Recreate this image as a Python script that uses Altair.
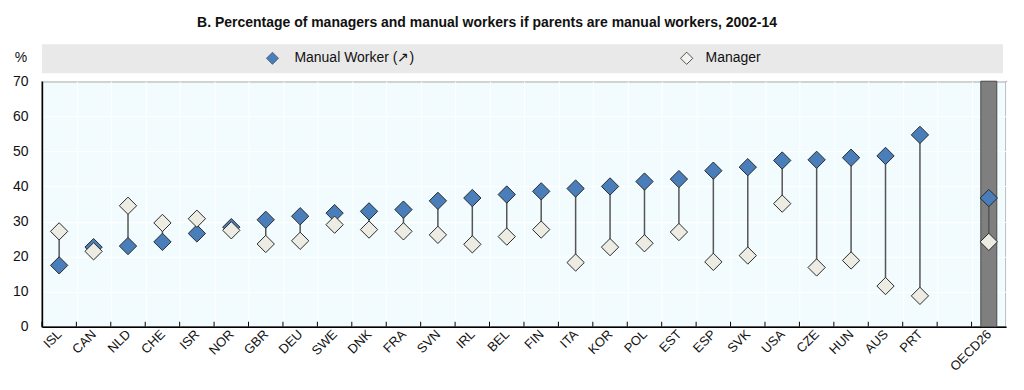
import altair as alt
import pandas as pd

countries = ["ISL", "CAN", "NLD", "CHE", "ISR", "NOR", "GBR", "DEU", "SWE", "DNK",
             "FRA", "SVN", "IRL", "BEL", "FIN", "ITA", "KOR", "POL", "EST", "ESP",
             "SVK", "USA", "CZE", "HUN", "AUS", "PRT", "OECD26"]
manual_worker = [17.5, 22.7, 23.0, 24.2, 26.6, 28.4, 30.5, 31.5, 32.4, 32.9,
                 33.4, 35.9, 36.7, 37.7, 38.6, 39.4, 40.0, 41.4, 42.1, 44.5,
                 45.5, 47.4, 47.6, 48.2, 48.7, 54.7, 36.7]
manager = [27.2, 21.5, 34.5, 29.6, 30.8, 27.5, 23.6, 24.5, 29.1, 27.7,
           27.2, 26.2, 23.5, 25.7, 27.7, 18.3, 22.7, 23.8, 27.0, 18.5,
           20.3, 35.1, 16.9, 18.9, 11.6, 8.8, 24.2]
highlight = ["OECD26"]
y_ticks = [0, 10, 20, 30, 40, 50, 60, 70]

domain = countries[:-1] + [" "] + countries[-1:]

df = pd.DataFrame({"country": countries, "manual": manual_worker, "manager": manager})
df_dom = pd.DataFrame({"country": domain})
df_hl = pd.DataFrame({"country": highlight})
one = pd.DataFrame({"k": [0]})

W, H = 966, 246
FONT = "Liberation Sans"
BLUE = "#4a7ebb"
CREAM = "#ececE2"

xscale = alt.Scale(type="band", domain=domain, paddingInner=0, paddingOuter=0)
yscale = alt.Scale(domain=[0, 70], nice=False)

x_axis = alt.Axis(title=None, tickBand="extent", ticks=False, grid=True, gridColor="white",
                  gridWidth=1, labelAngle=315, labelFontSize=13, labelFont=FONT,
                  labelColor="#111", labelPadding=5, domainColor="black", domainWidth=1.5,
                  labelAlign="right", labelBaseline="middle", labelOverlap=False)
y_axis = alt.Axis(title=None, values=y_ticks, ticks=False, grid=True, gridColor="white",
                  gridWidth=1, labelFontSize=14, labelFont=FONT, labelColor="#111",
                  labelPadding=14, domainColor="black", domainWidth=1.5, labelOverlap=False)

X = alt.X("country:N", scale=xscale, axis=x_axis, sort=domain)

bar = alt.Chart(df_hl).mark_bar(width=16, color="#7f7f7f", stroke="#474747", strokeWidth=1).encode(
    x=X, y=alt.value(0), y2=alt.value(H))

ticks = alt.Chart(df_dom).mark_rule(color="black", strokeWidth=1).encode(
    x=alt.X("country:N", scale=xscale, bandPosition=0, sort=domain, axis=x_axis),
    y=alt.value(H - 5), y2=alt.value(H))

rules = alt.Chart(df).mark_rule(color="#555555", strokeWidth=1.5).encode(
    x=X, y=alt.Y("manual:Q", scale=yscale, axis=y_axis), y2="manager:Q")

pts_manual = alt.Chart(df).mark_point(shape="diamond", filled=True, size=300, fill=BLUE,
                                      stroke="#2a2a2a", strokeWidth=1, opacity=1).encode(
    x=X, y=alt.Y("manual:Q", scale=yscale, axis=y_axis))
pts_manager = alt.Chart(df).mark_point(shape="diamond", filled=True, size=300, fill=CREAM,
                                       stroke="#2a2a2a", strokeWidth=1, opacity=1).encode(
    x=X, y=alt.Y("manager:Q", scale=yscale, axis=y_axis))

# legend band and entries
band = alt.Chart(one).mark_rect(color="#e9e9e9").encode(
    x=alt.value(0), x2=alt.value(963), y=alt.value(-37), y2=alt.value(-8))
leg_sym1 = alt.Chart(one).mark_point(shape="diamond", filled=True, size=150, fill=BLUE,
                                     stroke="#2a2a2a", strokeWidth=0.5, opacity=1).encode(
    x=alt.value(231), y=alt.value(-23))
leg_sym2 = alt.Chart(one).mark_point(shape="diamond", filled=True, size=150, fill="#f4f4ee",
                                     stroke="#2a2a2a", strokeWidth=0.8, opacity=1).encode(
    x=alt.value(646), y=alt.value(-23))
leg_txt1 = alt.Chart(one).mark_text(text="Manual Worker (↗)", align="left", baseline="middle",
                                    fontSize=14, font=FONT, color="#111").encode(
    x=alt.value(253), y=alt.value(-23))
leg_txt2 = alt.Chart(one).mark_text(text="Manager", align="left", baseline="middle",
                                    fontSize=14, font=FONT, color="#111").encode(
    x=alt.value(665), y=alt.value(-23))
pct = alt.Chart(one).mark_text(text="%", align="center", baseline="middle",
                               fontSize=14, font=FONT, color="#111").encode(
    x=alt.value(-21), y=alt.value(-23))
title = alt.Chart(one).mark_text(text="B. Percentage of managers and manual workers if parents are manual workers, 2002-14",
                                 align="center", baseline="middle", fontSize=14, fontWeight="bold",
                                 font=FONT, color="#111").encode(
    x=alt.value(446), y=alt.value(-58))

chart = alt.layer(bar, ticks, rules, pts_manual, pts_manager,
                  band, leg_sym1, leg_sym2, leg_txt1, leg_txt2, pct, title).properties(
    width=W, height=H,
    background="white",
    autosize=alt.AutoSizeParams(type="none"),
    padding={"left": 34, "top": 73, "right": 10, "bottom": 60},
).configure_view(fill="#f2fcfe", stroke="#333333", strokeWidth=1.2)

chart.save("out.html", embed_options={"renderer": "svg", "actions": False})
